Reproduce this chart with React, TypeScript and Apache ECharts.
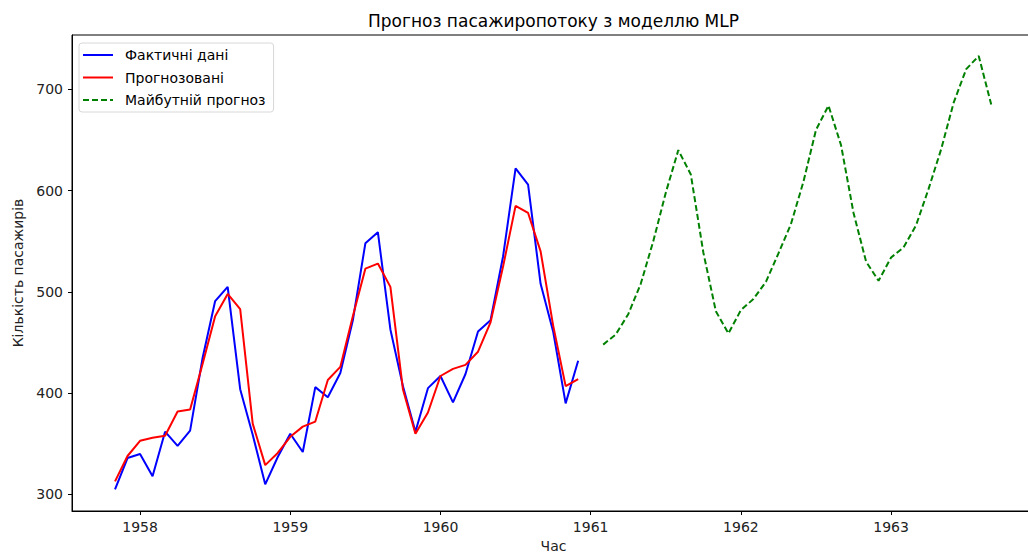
import React, { useEffect, useRef } from "react";
import * as echarts from "echarts";

// Actual monthly passengers, starting 1957-11
const actualStart = { year: 1957, month: 11 };
const actualValues = [
  305, 336, 340, 318, 362, 348, 363, 435, 491, 505, 404, 359, 310, 337, 360, 342,
  406, 396, 420, 472, 548, 559, 463, 407, 362, 405, 417, 391, 419, 461, 472, 535,
  622, 606, 508, 461, 390, 432,
];
// MLP predictions for the same months
const predictedValues = [
  313, 338, 353, 356, 358, 382, 384, 429, 476, 498, 483, 370, 329, 341, 357, 367,
  372, 413, 426, 476, 523, 528, 505, 404, 360, 381, 417, 424, 428, 441, 470, 525,
  585, 578, 540, 467, 407, 414,
];
// Future forecast, starting 1961-02
const futureStart = { year: 1961, month: 2 };
const futureValues = [
  448, 458, 478, 508, 550, 598, 640, 616, 539, 481, 459, 482, 493, 510, 538, 567,
  609, 660, 684, 645, 578, 530, 511, 534, 544, 566, 602, 641, 687, 720, 733, 685,
];
const yearTicks = [1958, 1959, 1960, 1961, 1962, 1963];
const yTicks = [300, 400, 500, 600, 700];

const seriesNames = ["Фактичні дані", "Прогнозовані", "Майбутній прогноз"];

const toXY = (start: { year: number; month: number }, vals: number[]) =>
  vals.map((v, i) => [start.year + (start.month - 1 + i) / 12, v]);

const FONT = "DejaVu Sans";

const SOLID_ICON = "path://M0,0H30V2H0Z";
const DASH_ICON = "path://M0,0H6V2H0Z M9,0H15V2H9Z M18,0H24V2H18Z M27,0H30V2H27Z";

export default function App() {
  const ref = useRef<HTMLDivElement>(null);
  useEffect(() => {
    if (!ref.current) return;
    const chart = echarts.init(ref.current, undefined, { renderer: "svg" });
    chart.setOption({
      animation: false,
      backgroundColor: "#fff",
      textStyle: { fontFamily: FONT },
      graphic: [
        {
          type: "text",
          x: 553.5,
          y: 21,
          style: {
            text: "Прогноз пасажиропотоку з моделлю MLP",
            font: `17px "${FONT}"`,
            fill: "#000",
            textAlign: "center",
            textVerticalAlign: "middle",
          },
        },
      ],
      grid: {
        left: 72,
        top: 35,
        right: 10,
        bottom: 41,
        show: true,
        borderColor: "#000",
        borderWidth: 1,
        backgroundColor: "transparent",
      },
      legend: {
        orient: "vertical",
        left: 79,
        top: 43,
        padding: [5, 8, 5, 4],
        itemWidth: 30,
        itemHeight: 14,
        itemGap: 8.5,
        backgroundColor: "rgba(255,255,255,0.8)",
        borderColor: "#d8d8d8",
        borderWidth: 1,
        borderRadius: 3,
        textStyle: { fontFamily: FONT, fontSize: 14, color: "#000", padding: [0, 0, 0, 7] },
        data: [
          { name: seriesNames[0], icon: SOLID_ICON },
          { name: seriesNames[1], icon: SOLID_ICON },
          { name: seriesNames[2], icon: DASH_ICON },
        ],
      },
      xAxis: {
        type: "value",
        min: 1957.547,
        max: 1963.958,
        splitLine: { show: false },
        axisLine: { show: true, onZero: false, lineStyle: { color: "#000", width: 1 } },
        axisTick: {
          show: true,
          length: 4,
          inside: false,
          customValues: yearTicks,
          lineStyle: { color: "#000" },
        },
        axisLabel: {
          customValues: yearTicks,
          formatter: (v: number) => String(Math.round(v)),
          fontFamily: FONT,
          fontSize: 14,
          color: "#222",
          margin: 9,
        },
        name: "Час",
        nameLocation: "middle",
        nameGap: 28,
        nameTextStyle: { fontFamily: FONT, fontSize: 14, color: "#222" },
      },
      yAxis: {
        type: "value",
        min: 283.7,
        max: 753.7,
        splitLine: { show: false },
        axisLine: { show: true, onZero: false, lineStyle: { color: "#000", width: 1 } },
        axisTick: {
          show: true,
          length: 4,
          customValues: yTicks,
          lineStyle: { color: "#000" },
        },
        axisLabel: {
          customValues: yTicks,
          fontFamily: FONT,
          fontSize: 14,
          color: "#222",
          margin: 9,
        },
        name: "Кількість пасажирів",
        nameLocation: "middle",
        nameGap: 46,
        nameTextStyle: { fontFamily: FONT, fontSize: 14, color: "#222" },
      },
      series: [
        {
          name: seriesNames[0],
          type: "line",
          data: toXY(actualStart, actualValues),
          showSymbol: false,
          symbol: "none",
          lineStyle: { color: "#0000ff", width: 2 },
          itemStyle: { color: "#0000ff" },
          z: 2,
        },
        {
          name: seriesNames[1],
          type: "line",
          data: toXY(actualStart, predictedValues),
          showSymbol: false,
          symbol: "none",
          lineStyle: { color: "#ff0000", width: 2 },
          itemStyle: { color: "#ff0000" },
          z: 3,
        },
        {
          name: seriesNames[2],
          type: "line",
          data: toXY(futureStart, futureValues),
          showSymbol: false,
          symbol: "none",
          lineStyle: { color: "#008000", width: 2, type: [6, 3] },
          itemStyle: { color: "#008000" },
          z: 2,
        },
      ],
    });
    return () => chart.dispose();
  }, []);
  return (
    <div
      ref={ref}
      style={{ position: "fixed", left: 0, top: 0, width: 1045, height: 558, background: "#fff" }}
    />
  );
}
